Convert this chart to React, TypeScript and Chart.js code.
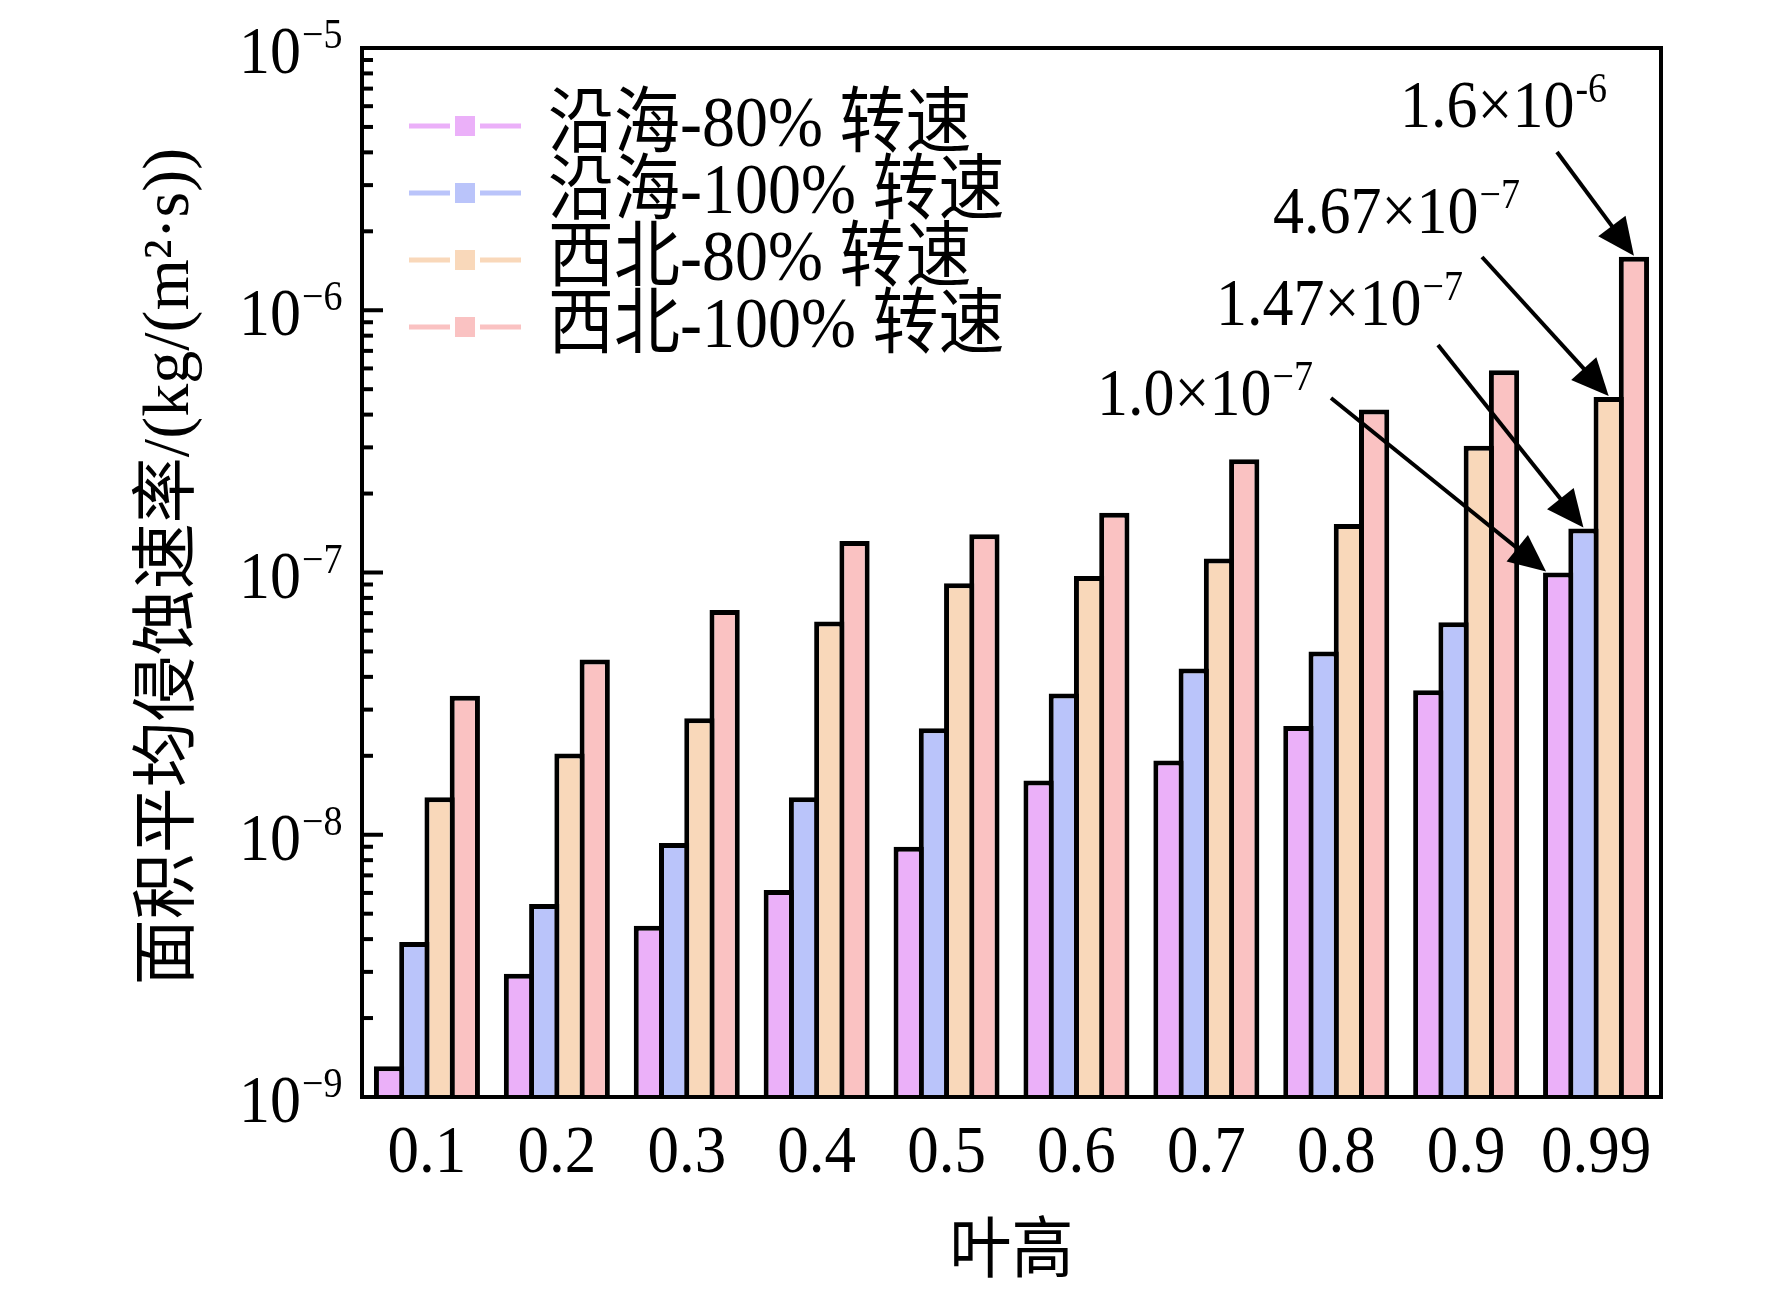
import { useEffect, useRef } from "react";
import { Chart, registerables, type ChartConfiguration, type Plugin } from "chart.js";

Chart.register(...registerables);

// blade height positions (x categories)
const BLADE_HEIGHTS = ["0.1", "0.2", "0.3", "0.4", "0.5", "0.6", "0.7", "0.8", "0.9", "0.99"];

// area-averaged erosion rate, kg/(m²·s)
const COASTAL_80 = [1.31e-9, 2.95e-9, 4.5e-9, 6.15e-9, 9.0e-9, 1.61e-8, 1.92e-8, 2.6e-8, 3.56e-8, 1.0e-7];
const COASTAL_100 = [3.9e-9, 5.45e-9, 9.3e-9, 1.39e-8, 2.55e-8, 3.46e-8, 4.3e-8, 5.0e-8, 6.46e-8, 1.47e-7];
const NORTHWEST_80 = [1.39e-8, 2.04e-8, 2.78e-8, 6.5e-8, 9.1e-8, 9.7e-8, 1.13e-7, 1.53e-7, 3.04e-7, 4.67e-7];
const NORTHWEST_100 = [3.39e-8, 4.66e-8, 7.2e-8, 1.32e-7, 1.4e-7, 1.69e-7, 2.7e-7, 4.18e-7, 5.91e-7, 1.6e-6];

const SERIES_LABELS = ["沿海-80% 转速", "沿海-100% 转速", "西北-80% 转速", "西北-100% 转速"];
const SERIES_COLORS = ["#EBB0F9", "#BAC4FA", "#F9D8BA", "#FAC2C2"];

// decade exponents shown on the y axis
const Y_EXPONENTS = [-5, -6, -7, -8, -9];

// callout labels on the 0.99 group: series index, mantissa, exponent
const CALLOUT_SERIES = [3, 2, 1, 0];
const CALLOUT_MANTISSA = ["1.6", "4.67", "1.47", "1.0"];
const CALLOUT_EXPONENT = ["-6", "\u22127", "\u22127", "\u22127"];

const SERIF = '"Liberation Serif", "Times New Roman", "Noto Sans CJK SC", serif';
// the original figure is a little taller than wide, text included
const STRETCH = 1.09;

// where each callout's text and arrow tail sit (px)
const CALLOUT_LAYOUT = [
  { x: 1400, y: 127, tailX: 1557, tailY: 152, edge: false },
  { x: 1273, y: 233, tailX: 1482, tailY: 257, edge: false },
  { x: 1216, y: 325, tailX: 1438, tailY: 345, edge: false },
  { x: 1097, y: 415, tailX: 1331, tailY: 398, edge: true },
];

function text(ctx: CanvasRenderingContext2D, s: string, x: number, y: number, font: string, align: CanvasTextAlign, base: CanvasTextBaseline) {
  ctx.save();
  ctx.font = font;
  ctx.textAlign = align;
  ctx.textBaseline = base;
  ctx.translate(x, y);
  ctx.scale(1, STRETCH);
  ctx.fillText(s, 0, 0);
  ctx.restore();
}

function drawArrow(ctx: CanvasRenderingContext2D, x0: number, y0: number, x1: number, y1: number) {
  const ang = Math.atan2(y1 - y0, x1 - x0);
  const len = 37;
  const half = 17;
  const c = Math.cos(ang);
  const s = Math.sin(ang);
  const bx = x1 - len * c;
  const by = y1 - len * s;
  ctx.beginPath();
  ctx.moveTo(x0, y0);
  ctx.lineTo(bx + 2 * c, by + 2 * s);
  ctx.stroke();
  ctx.beginPath();
  ctx.moveTo(x1, y1);
  ctx.lineTo(bx + half * s, by - half * c);
  ctx.lineTo(bx - half * s, by + half * c);
  ctx.closePath();
  ctx.fill();
}

function drawPower(ctx: CanvasRenderingContext2D, base: string, exp: string, x: number, baseline: number, size: number, supSize: number) {
  ctx.font = `${size}px ${SERIF}`;
  const w = ctx.measureText(base).width;
  text(ctx, base, x, baseline, `${size}px ${SERIF}`, "left", "alphabetic");
  text(ctx, exp, x + w + 1, baseline - size * 0.4, `${supSize}px ${SERIF}`, "left", "alphabetic");
}

const decorations: Plugin<"bar"> = {
  id: "decorations",
  afterDatasetsDraw(chart) {
    const { ctx, chartArea: a, scales } = chart;
    const xs = scales.x;
    const ys = scales.y;
    ctx.save();
    ctx.strokeStyle = "#000";
    ctx.fillStyle = "#000";
    ctx.lineWidth = 4;

    // frame
    ctx.strokeRect(a.left, a.top, a.right - a.left, a.bottom - a.top);

    // inward ticks on the left axis
    for (let e = -9; e < -5; e++) {
      for (let m = 2; m <= 9; m++) {
        const py = ys.getPixelForValue(m * Math.pow(10, e));
        ctx.beginPath();
        ctx.moveTo(a.left, py);
        ctx.lineTo(a.left + 11, py);
        ctx.stroke();
      }
    }
    for (const e of Y_EXPONENTS) {
      const py = ys.getPixelForValue(Math.pow(10, e));
      ctx.beginPath();
      ctx.moveTo(a.left, py);
      ctx.lineTo(a.left + 21, py);
      ctx.stroke();
    }

    // y tick labels 10^n
    for (const e of Y_EXPONENTS) {
      const py = ys.getPixelForValue(Math.pow(10, e));
      drawPower(ctx, "10", "\u2212" + Math.abs(e), a.left - 123, py + 25, 62, 38);
    }

    // x tick labels
    BLADE_HEIGHTS.forEach((c, i) => text(ctx, c, xs.getPixelForValue(i), a.bottom + 75, `63px ${SERIF}`, "center", "alphabetic"));

    // axis titles
    text(ctx, "叶高", (a.left + a.right) / 2, a.bottom + 157, `62px ${SERIF}`, "center", "middle");
    ctx.save();
    ctx.translate(171, (a.top + a.bottom) / 2 - 6);
    ctx.rotate(-Math.PI / 2);
    ctx.font = `66px ${SERIF}`;
    ctx.textAlign = "center";
    ctx.textBaseline = "middle";
    ctx.fillText("面积平均侵蚀速率/(kg/(m²·s))", 0, 0);
    ctx.restore();

    // legend (line + square marker)
    chart.data.datasets.forEach((ds, i) => {
      const cy = 126 + i * 67;
      const color = SERIES_COLORS[i];
      ctx.strokeStyle = color;
      ctx.fillStyle = color;
      ctx.lineWidth = 5;
      ctx.beginPath();
      ctx.moveTo(409, cy);
      ctx.lineTo(450, cy);
      ctx.moveTo(480, cy);
      ctx.lineTo(521, cy);
      ctx.stroke();
      ctx.fillRect(455, cy - 10, 20, 20);
      ctx.fillStyle = "#000";
      text(ctx, String(ds.label), 548, cy + 1, `66px ${SERIF}`, "left", "middle");
    });

    // callouts on the last group
    ctx.strokeStyle = "#000";
    ctx.fillStyle = "#000";
    ctx.lineWidth = 4;
    const last = BLADE_HEIGHTS.length - 1;
    CALLOUT_SERIES.forEach((si, k) => {
      const lay = CALLOUT_LAYOUT[k];
      const el: any = chart.getDatasetMeta(si).data[last];
      const { x, y, width } = el.getProps(["x", "y", "width"], true);
      const tipX = lay.edge ? x - width / 2 + 3 : x;
      drawArrow(ctx, lay.tailX, lay.tailY, tipX, y - 1);
      drawPower(ctx, CALLOUT_MANTISSA[k] + "×10", CALLOUT_EXPONENT[k], lay.x, lay.y, 62, 38);
    });

    ctx.restore();
  },
};

export default function App() {
  const canvasRef = useRef<HTMLCanvasElement>(null);

  useEffect(() => {
    document.body.style.margin = "0";
    if (!canvasRef.current) return;
    const seriesData = [COASTAL_80, COASTAL_100, NORTHWEST_80, NORTHWEST_100];
    const config: ChartConfiguration<"bar"> = {
      type: "bar",
      data: {
        labels: BLADE_HEIGHTS,
        datasets: seriesData.map((d, i) => ({
          label: SERIES_LABELS[i],
          data: d,
          backgroundColor: SERIES_COLORS[i],
          borderColor: "#000",
          borderWidth: 5,
          categoryPercentage: 0.7775,
          barPercentage: 1.198,
        })),
      },
      options: {
        responsive: false,
        animation: false,
        devicePixelRatio: 1,
        layout: { padding: { left: 362, top: 48, right: 111, bottom: 192 } },
        plugins: { legend: { display: false }, tooltip: { enabled: false } },
        scales: {
          x: { display: false },
          y: { type: "logarithmic", display: false, min: 1e-9, max: 1e-5 },
        },
      },
      plugins: [decorations],
    };
    const chart = new Chart(canvasRef.current, config);
    return () => chart.destroy();
  }, []);

  return (
    <div style={{ position: "absolute", left: 0, top: 0, width: 1772, height: 1289, background: "#fff" }}>
      <canvas ref={canvasRef} width={1772} height={1289} />
    </div>
  );
}
